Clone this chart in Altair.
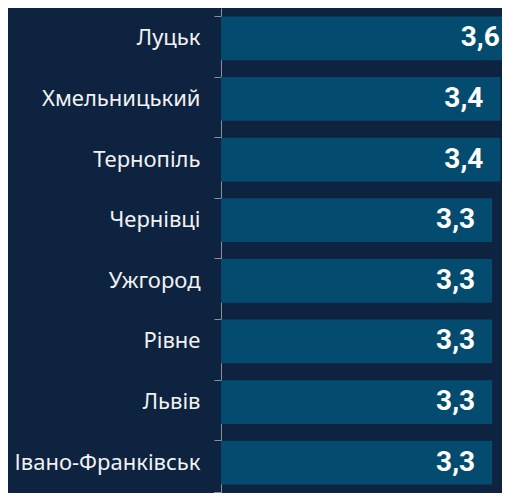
import altair as alt
import pandas as pd

cities = ["Луцьк", "Хмельницький", "Тернопіль", "Чернівці", "Ужгород", "Рівне", "Львів", "Івано-Франківськ"]
values = [3.6, 3.4, 3.4, 3.3, 3.3, 3.3, 3.3, 3.3]
labels = ["3,6", "3,4", "3,4", "3,3", "3,3", "3,3", "3,3", "3,3"]

df = pd.DataFrame({"city": cities, "value": values, "label": labels})

BG = "#0e2340"
BAR = "#034c6f"
AX = "#8a8f99"

y = alt.Y("city:N", sort=cities, title=None,
          scale=alt.Scale(paddingInner=0.28, paddingOuter=0.14),
          axis=alt.Axis(labelColor="#f2f2f2", labelFont="Noto Sans", labelFontSize=22,
                        labelPadding=14, tickColor=AX, domainColor=AX,
                        tickSize=7, bandPosition=0, grid=False, labelLimit=300))
x = alt.X("value:Q", title=None, scale=alt.Scale(domain=[0, 3.42], nice=False), axis=None)

bars = alt.Chart(df).mark_bar(color=BAR).encode(x=x, y=y)
text = alt.Chart(df).mark_text(align="right", dx=-17, color="white", font="Roboto",
                               fontWeight="bold", fontSize=28, baseline="middle").encode(
    x=x, y=alt.Y("city:N", sort=cities), text="label:N")
endtick = alt.Chart(df).mark_rule(color=AX).encode(
    x=alt.value(-7), x2=alt.value(0), y=alt.value(485))

chart = alt.layer(bars, text, endtick).properties(
    width=281, height=485, background=BG,
    padding={"left": 213, "top": 0, "right": 0, "bottom": 0},
    autosize=alt.AutoSizeParams(type="none"),
).configure_view(stroke=None)

chart.save("out.html", embed_options={"renderer": "svg", "actions": False})
